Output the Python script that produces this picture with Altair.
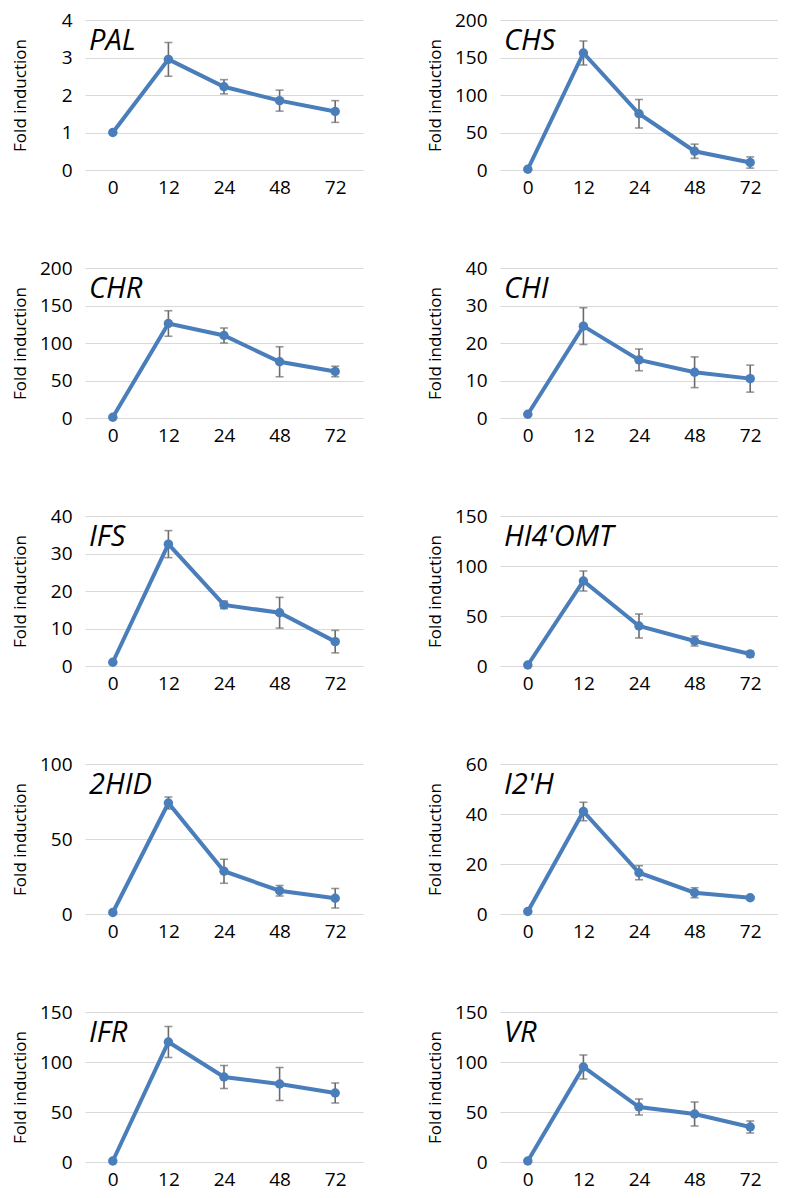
import altair as alt
import pandas as pd

times = ["0", "12", "24", "48", "72"]

genes = ["PAL", "CHS", "CHR", "CHI", "IFS", "HI4'OMT", "2HID", "I2'H", "IFR", "VR"]

pal_mean = [1, 2.95, 2.22, 1.85, 1.56]
pal_err = [0, 0.45, 0.19, 0.28, 0.29]
chs_mean = [1, 156, 75, 25, 10]
chs_err = [0, 16, 19, 9.5, 7.5]
chr_mean = [1, 126, 110, 75, 62]
chr_err = [0, 17, 10, 20, 7]
chi_mean = [1, 24.5, 15.5, 12.2, 10.5]
chi_err = [0, 4.9, 2.9, 4.1, 3.6]
ifs_mean = [1, 32.5, 16.3, 14.2, 6.5]
ifs_err = [0, 3.6, 1.0, 4.1, 3.0]
hi4omt_mean = [1, 85, 40, 25, 12]
hi4omt_err = [0, 10, 12, 5, 3]
hid_mean = [1, 74, 28.5, 15.5, 10.5]
hid_err = [0, 4, 8, 3.5, 6.5]
i2h_mean = [1, 41, 16.5, 8.5, 6.5]
i2h_err = [0, 3.7, 2.8, 2.0, 0.5]
ifr_mean = [1, 120, 85, 78, 69]
ifr_err = [0, 15.5, 11.5, 16.5, 10]
vr_mean = [1, 95, 55, 48, 35]
vr_err = [0, 12, 8, 12, 6]

y_max = [4, 200, 200, 40, 40, 150, 100, 60, 150, 150]
y_step = [1, 50, 50, 10, 10, 50, 50, 20, 50, 50]

series = [
    (pal_mean, pal_err), (chs_mean, chs_err), (chr_mean, chr_err), (chi_mean, chi_err),
    (ifs_mean, ifs_err), (hi4omt_mean, hi4omt_err), (hid_mean, hid_err), (i2h_mean, i2h_err),
    (ifr_mean, ifr_err), (vr_mean, vr_err),
]

FONT = "Open Sans"
BLUE = "#4a7ebb"
ERR = "#6b6b6b"
W = 278
H = 150


def panel(name, mean, err, ymax, ystep):
    df = pd.DataFrame({
        "t": times,
        "m": mean,
        "lo": [m - e for m, e in zip(mean, err)],
        "hi": [m + e for m, e in zip(mean, err)],
        "e": err,
    })
    ticks = list(range(0, ymax + 1, ystep))
    x = alt.X("t:O", sort=times, title=None,
              scale=alt.Scale(type="point", padding=0.5),
              axis=alt.Axis(labelAngle=0, ticks=False, domain=False, grid=False,
                            labelPadding=8, labelFontSize=19, labelFont=FONT,
                            labelColor="#000"))
    yscale = alt.Scale(domain=[0, ymax], nice=False, zero=True)
    yaxis = alt.Axis(values=ticks, tickCount=len(ticks), grid=True, gridColor="#d9d9d9",
                     gridWidth=1.2, domain=False, ticks=False, labelPadding=13,
                     labelFontSize=19, labelFont=FONT, labelColor="#000",
                     labelOverlap=False, minExtent=46, maxExtent=46,
                     titleFont=FONT, titleFontSize=17, titleFontWeight="normal",
                     titleColor="#000", titlePadding=10, format="d")

    def Y(field):
        return alt.Y(field, title="Fold induction", scale=yscale, axis=yaxis)

    base = alt.Chart(df)
    eb = base.transform_filter("datum.e > 0")
    rule = eb.mark_rule(color=ERR, strokeWidth=1.6).encode(x=x, y=Y("lo:Q"), y2="hi:Q")
    cap_lo = eb.mark_tick(color=ERR, thickness=1.6, size=8, orient="horizontal").encode(x=x, y=Y("lo:Q"))
    cap_hi = eb.mark_tick(color=ERR, thickness=1.6, size=8, orient="horizontal").encode(x=x, y=Y("hi:Q"))
    line = base.mark_line(color=BLUE, strokeWidth=4).encode(x=x, y=Y("m:Q"))
    pts = base.mark_circle(color=BLUE, opacity=1, size=90).encode(x=x, y=Y("m:Q"))
    label = alt.Chart(pd.DataFrame({"g": [name]})).mark_text(
        align="left", baseline="alphabetic", fontStyle="italic", fontSize=29,
        font=FONT, color="#000"
    ).encode(text="g:N", x=alt.value(4), y=alt.value(30))
    return alt.layer(rule, cap_lo, cap_hi, line, pts, label).properties(width=W, height=H)


panels = [panel(g, s[0], s[1], ym, ys)
          for g, s, ym, ys in zip(genes, series, y_max, y_step)]

rows = [alt.hconcat(panels[i], panels[i + 1], spacing=63) for i in range(0, 10, 2)]
chart = alt.vconcat(*rows, spacing=62).properties(
    padding={"left": 3, "top": 3, "right": 0, "bottom": 3}
).configure_view(stroke=None)

chart.save("out.html", embed_options={"renderer": "svg", "actions": False})
